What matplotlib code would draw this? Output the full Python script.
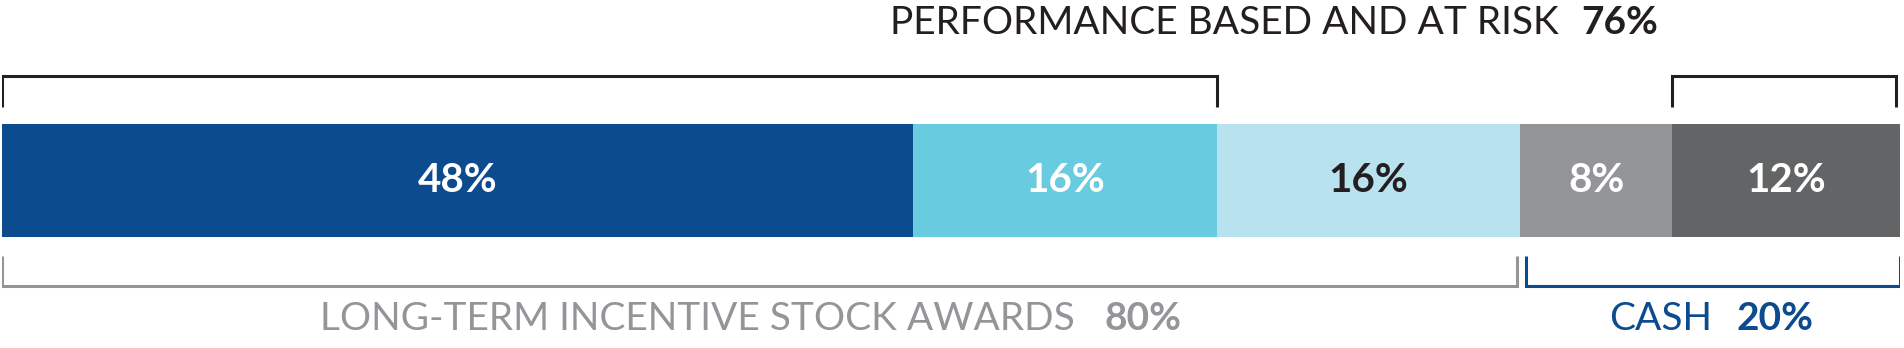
import matplotlib.pyplot as plt
import numpy as np

plt.rcParams['font.family'] = ['Lato', 'DejaVu Sans']

# segments of the pay mix bar (percent)
values = [48, 16, 16, 8, 12]
labels = ['48%', '16%', '16%', '8%', '12%']
colors = ['#0c4b8e', '#69cbe0', '#b8e2ee', '#939598', '#636466']
label_colors = ['white', 'white', '#231f20', 'white', 'white']

# bracket groups (start, end in percent)
perf_spans = [(0, 64), (88, 99.8)]
lti_span = (0, 79.8)
cash_span = (80.3, 100)

perf_text, perf_pct = 'PERFORMANCE BASED AND AT RISK', '76%'
lti_text, lti_pct = 'LONG-TERM INCENTIVE STOCK AWARDS', '80%'
cash_text, cash_pct = 'CASH', '20%'

W, H = 1904, 348
fig = plt.figure(figsize=(W / 100, H / 100), dpi=100)
ax = fig.add_axes([2 / W, 0, 1898 / W, 1])
ax.set_xlim(0, 100)
ax.set_ylim(H, 0)
ax.axis('off')

lefts = np.concatenate([[0], np.cumsum(values)[:-1]])
bar_y, bar_h = 180.5, 113
ax.barh(bar_y, values, left=lefts, height=bar_h, color=colors, edgecolor='none')
for l, v, lab, c in zip(lefts, values, labels, label_colors):
    ax.text(l + v / 2, bar_y, lab, ha='center', va='center', fontsize=29,
            fontweight='bold', color=c)

lw = 2.2
dark = '#231f20'
for a, b in perf_spans:
    ax.plot([a, a, b, b], [107, 76, 76, 107], color=dark, lw=lw,
            solid_joinstyle='miter', solid_capstyle='butt')
a, b = lti_span
ax.plot([a, a, b, b], [256, 286, 286, 256], color='#939598', lw=lw,
        solid_joinstyle='miter', solid_capstyle='butt')
a, b = cash_span
ax.plot([a, a, b, b], [256, 286, 286, 256], color='#0c4b8e', lw=lw,
        solid_joinstyle='miter', solid_capstyle='butt')

# headings
ax.text(82.0, 23, perf_text, ha='right', va='center', fontsize=28, color=dark)
ax.text(83.2, 23, perf_pct, ha='left', va='center', fontsize=28,
        fontweight='bold', color=dark)
ax.text(56.5, 319, lti_text, ha='right', va='center', fontsize=28, color='#939598')
ax.text(58.1, 319, lti_pct, ha='left', va='center', fontsize=28,
        fontweight='bold', color='#939598')
ax.text(90.1, 319, cash_text, ha='right', va='center', fontsize=28, color='#0c4b8e')
ax.text(91.4, 319, cash_pct, ha='left', va='center', fontsize=28,
        fontweight='bold', color='#0c4b8e')

fig.savefig('out.png', dpi=100)
